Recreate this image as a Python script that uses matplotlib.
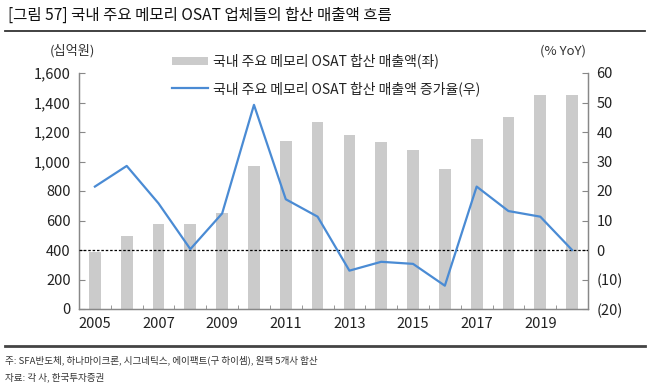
import matplotlib
matplotlib.use("Agg")
import matplotlib.pyplot as plt
from matplotlib.ticker import FixedLocator

plt.rcParams['font.family'] = ['Noto Sans CJK KR', 'DejaVu Sans']

years = [2005, 2006, 2007, 2008, 2009, 2010, 2011, 2012, 2013, 2014, 2015, 2016, 2017, 2018, 2019, 2020]
sales = [388, 497, 576, 578, 653, 972, 1136, 1266, 1178, 1132, 1078, 949, 1152, 1304, 1451, 1451]
growth = [21.5, 28.5, 15.8, 0.3, 12.4, 49.2, 17.2, 11.3, -7.0, -4.0, -4.7, -12.1, 21.5, 13.2, 11.3, 0.0]
left_ticks = [0, 200, 400, 600, 800, 1000, 1200, 1400, 1600]
right_ticks = [-20, -10, 0, 10, 20, 30, 40, 50, 60]
right_labels = ['(20)', '(10)', '0', '10', '20', '30', '40', '50', '60']
label_years = [2005, 2007, 2009, 2011, 2013, 2015, 2017, 2019]

bar_name = '국내 주요 메모리 OSAT 합산 매출액(좌)'
line_name = '국내 주요 메모리 OSAT 합산 매출액 증가율(우)'

W, H = 651, 389
fig = plt.figure(figsize=(W / 100, H / 100), dpi=100)
ax = fig.add_axes([79 / W, 1 - 309 / H, (588 - 79) / W, (309 - 73) / H])
ax2 = ax.twinx()

x = list(range(len(years)))
bars = ax.bar(x, sales, width=0.37, color='#cbcbcb', zorder=2)
ax.set_xlim(-0.5, len(years) - 0.5)
ax.set_ylim(0, 1600)
ax.set_yticks(left_ticks)
ax.set_yticklabels([f'{v:,}' for v in left_ticks])

ax2.set_ylim(-20, 60)
ax2.set_yticks(right_ticks)
ax2.set_yticklabels(right_labels)
ax2.axhline(0, color='black', linestyle=(0, (2, 1.5)), linewidth=0.9, zorder=3)
line, = ax2.plot(x, growth, color='#4a8bd4', linewidth=1.6, zorder=4)

ax.set_xticks([years.index(y) for y in label_years])
ax.set_xticklabels([str(y) for y in label_years])
ax.xaxis.set_minor_locator(FixedLocator([i - 0.5 for i in range(len(years) + 1)]))
ax.tick_params(axis='x', which='major', length=0, labelsize=10.5, colors='#222222', pad=6)
ax.tick_params(axis='x', which='minor', length=3, direction='in', color='#888888')
ax.tick_params(axis='y', length=4, direction='in', color='#888888', labelsize=10.5, labelcolor='#222222', pad=6)
ax2.tick_params(axis='y', length=4, direction='in', color='#888888', labelsize=10.5, labelcolor='#222222', pad=6)

for a in (ax, ax2):
    a.spines['top'].set_visible(False)
    for s in ('left', 'right', 'bottom'):
        a.spines[s].set_color('#888888')
        a.spines[s].set_linewidth(0.9)

fig.text(72 / W, 1 - 51 / H, '(십억원)', ha='center', va='center', fontsize=9.5, color='#333333')
fig.text(563 / W, 1 - 51 / H, '(% YoY)', ha='center', va='center', fontsize=9.5, color='#333333')

leg = ax.legend([bars, line], [bar_name, line_name], loc='upper left',
                bbox_to_anchor=(166 / W, 1 - 48 / H), bbox_transform=fig.transFigure,
                frameon=False, fontsize=10, handlelength=2.6, handleheight=0.5,
                labelspacing=0.9, handletextpad=0.35, borderaxespad=0)
for t in leg.get_texts():
    t.set_color('#222222')

fig.text(8 / W, 1 - 15 / H, '[그림 57] 국내 주요 메모리 OSAT 업체들의 합산 매출액 흐름',
         ha='left', va='center', fontsize=11.2, fontweight='medium', color='#111111')
fig.add_artist(plt.Line2D([5 / W, 645 / W], [1 - 31 / H, 1 - 31 / H], color='#333333', linewidth=1.3))
fig.add_artist(plt.Line2D([5 / W, 645 / W], [1 - 346 / H, 1 - 346 / H], color='#444444', linewidth=2))
fig.text(5 / W, 1 - 360 / H, '주: SFA반도체, 하나마이크론, 시그네틱스, 에이팩트(구 하이셈), 원팩 5개사 합산',
         ha='left', va='center', fontsize=6.9, color='#333333')
fig.text(5 / W, 1 - 377 / H, '자료: 각 사, 한국투자증권',
         ha='left', va='center', fontsize=6.9, color='#333333')

fig.savefig('out.png', dpi=100)
